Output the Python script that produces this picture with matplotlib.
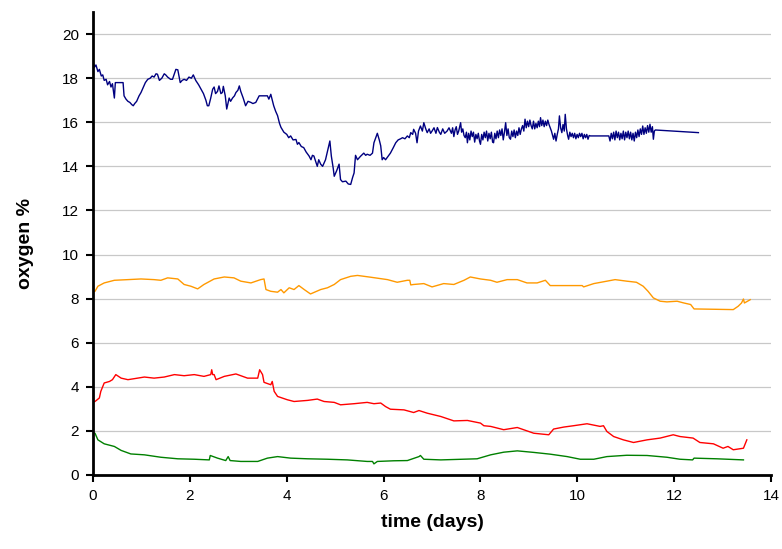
import matplotlib
matplotlib.use("Agg")
import matplotlib.pyplot as plt

# blue series (top)
blue_t = [0.0, 0.03, 0.06, 0.1, 0.13, 0.17, 0.2, 0.23, 0.27, 0.3, 0.34, 0.37, 0.4, 0.44, 0.46, 0.62, 0.64,
          0.68, 0.72, 0.76, 0.8, 0.83, 0.86, 0.9, 0.95, 0.99, 1.04, 1.08, 1.13, 1.18, 1.22, 1.26, 1.3, 1.33,
          1.37, 1.42, 1.47, 1.5, 1.54, 1.6, 1.64, 1.68, 1.71, 1.75, 1.8, 1.84, 1.88, 1.93, 1.98, 2.03, 2.07,
          2.12, 2.18, 2.23, 2.28, 2.33, 2.36, 2.39, 2.43, 2.47, 2.5, 2.53, 2.57, 2.6, 2.64, 2.67, 2.69, 2.73,
          2.76, 2.81, 2.84, 2.88, 2.92, 2.95, 2.99, 3.02, 3.05, 3.1, 3.15, 3.2, 3.26, 3.3, 3.36, 3.43, 3.5,
          3.6, 3.63, 3.67, 3.7, 3.73, 3.77, 3.81, 3.85, 3.88, 3.94, 4.0, 4.04, 4.08, 4.13, 4.19, 4.22, 4.25,
          4.3, 4.35, 4.4, 4.46, 4.5, 4.53, 4.56, 4.6, 4.63, 4.66, 4.7, 4.74, 4.8, 4.89, 4.92, 4.96, 4.98,
          5.03, 5.08, 5.11, 5.15, 5.22, 5.27, 5.32, 5.36, 5.39, 5.42, 5.46, 5.52, 5.59, 5.63, 5.66, 5.72,
          5.77, 5.8, 5.87, 5.91, 5.94, 5.97, 6.0, 6.04, 6.09, 6.14, 6.2, 6.25, 6.3, 6.35, 6.39, 6.44, 6.49,
          6.53, 6.56, 6.6, 6.62, 6.66, 6.69, 6.72, 6.76, 6.8, 6.83, 6.87, 6.9, 6.94, 6.97, 7.0, 7.04, 7.08,
          7.11, 7.15, 7.18, 7.22, 7.26, 7.31, 7.35,
          7.40, 7.425, 7.45, 7.475, 7.50, 7.525, 7.55, 7.575, 7.59, 7.61, 7.635, 7.66, 7.685, 7.71, 7.73,
          7.755, 7.78, 7.805, 7.83, 7.855, 7.88, 7.905, 7.93, 7.955, 7.98, 8.00, 8.025, 8.05, 8.075, 8.10,
          8.125, 8.15, 8.175, 8.20, 8.225, 8.25, 8.27, 8.295, 8.32, 8.345, 8.37, 8.395, 8.42, 8.445, 8.47,
          8.495, 8.52, 8.545, 8.57, 8.595, 8.62, 8.645, 8.67, 8.695, 8.72, 8.745, 8.77, 8.795, 8.82, 8.845,
          8.87, 8.895, 8.92, 8.945, 8.97, 8.995, 9.02, 9.045, 9.07, 9.095, 9.12, 9.145, 9.17, 9.195, 9.22,
          9.24, 9.265, 9.29, 9.315, 9.34, 9.365, 9.39, 9.415, 9.44, 9.465, 9.49, 9.51, 9.535, 9.56, 9.585,
          9.61, 9.63, 9.655, 9.68, 9.705, 9.73, 9.75, 9.775, 9.80, 9.82, 9.845, 9.87, 9.895, 9.92, 9.945,
          9.97, 9.995, 10.02, 10.045, 10.07, 10.095, 10.12, 10.145, 10.17, 10.195, 10.22, 10.245, 10.27,
          10.65, 10.675, 10.70, 10.725, 10.75, 10.775, 10.80, 10.825, 10.85, 10.875, 10.90, 10.925, 10.95,
          10.975, 11.00, 11.025, 11.05, 11.075, 11.10, 11.125, 11.15, 11.175, 11.20, 11.225, 11.25, 11.275,
          11.30, 11.325, 11.35, 11.375, 11.40, 11.425, 11.45, 11.475, 11.50, 11.525, 11.55, 11.57, 11.59,
          11.61, 12.5]
blue_v = [18.75, 18.5, 18.6, 18.3, 18.4, 18.1, 18.15, 17.9, 17.95, 17.7, 17.85, 17.6, 17.75, 17.1, 17.8, 17.8, 17.2,
          17.05, 16.95, 16.9, 16.8, 16.75, 16.85, 16.95, 17.2, 17.35, 17.6, 17.8, 17.95, 18.0, 18.1, 18.05, 18.2, 18.18,
          17.9, 18.0, 18.2, 18.15, 18.05, 17.95, 17.95, 18.2, 18.4, 18.38, 17.8, 17.9, 17.95, 17.9, 18.05, 18.0, 18.15,
          17.9, 17.7, 17.5, 17.3, 17.0, 16.75, 16.75, 17.1, 17.5, 17.6, 17.3, 17.4, 17.65, 17.3, 17.35, 17.63, 17.2,
          16.6, 17.1, 16.95, 17.1, 17.2, 17.35, 17.45, 17.65, 17.4, 17.1, 16.75, 16.95, 16.9, 16.85, 16.9, 17.2, 17.2,
          17.2, 17.05, 17.27, 17.0, 16.75, 16.5, 16.3, 15.95, 15.77, 15.55, 15.45, 15.3, 15.38, 15.2, 15.22, 15.0, 15.08,
          14.9, 14.85, 14.65, 14.47, 14.3, 14.5, 14.47, 14.2, 14.0, 14.3, 14.1, 14.0, 14.3, 15.15, 14.47, 13.9, 13.55,
          13.8, 14.1, 13.4, 13.3, 13.33, 13.2, 13.18, 13.5, 13.7, 14.5, 14.3, 14.45, 14.6, 14.5, 14.55, 14.5,
          14.6, 15.07, 15.5, 15.2, 14.93, 14.3, 14.4, 14.3, 14.45, 14.6, 14.85, 15.07, 15.2, 15.25, 15.3, 15.25, 15.38,
          15.3, 15.53, 15.45, 15.68, 15.5, 15.07, 15.6, 15.83, 15.6, 15.98, 15.7, 15.53, 15.7, 15.5, 15.6, 15.75, 15.5,
          15.76, 15.55, 15.45, 15.7, 15.5, 15.6, 15.75,
          15.50, 15.75, 15.35, 15.65, 15.80, 15.45, 15.60, 15.85, 15.98, 15.55, 15.70, 15.40, 15.30, 15.55, 15.07,
          15.50, 15.20, 15.60, 15.35, 15.55, 15.10, 15.45, 15.25, 15.50, 15.15, 15.00, 15.45, 15.20, 15.55, 15.30,
          15.60, 15.15, 15.50, 15.25, 15.55, 15.10, 15.07, 15.50, 15.25, 15.60, 15.30, 15.65, 15.40, 15.70, 15.20,
          15.55, 15.98, 15.40, 15.70, 15.30, 15.23, 15.60, 15.35, 15.65, 15.30, 15.60, 15.40, 15.75, 15.45, 15.70,
          15.85, 15.60, 16.14, 15.75, 16.05, 15.80, 16.10, 15.85, 15.70, 16.05, 15.70, 15.95, 15.75, 16.05, 15.80,
          16.21, 15.85, 16.10, 15.80, 16.05, 15.85, 16.10, 15.90, 15.75, 15.60, 15.40, 15.23, 15.50, 15.15, 15.45,
          15.70, 16.29, 15.75, 15.53, 15.90, 15.60, 16.36, 15.70, 15.40, 15.23, 15.55, 15.35, 15.50, 15.30, 15.50,
          15.25, 15.45, 15.30, 15.50, 15.35, 15.50, 15.25, 15.45, 15.30, 15.45, 15.23, 15.40, 15.38,
          15.38, 15.15, 15.50, 15.25, 15.55, 15.20, 15.60, 15.30, 15.55, 15.20, 15.50, 15.25, 15.60,
          15.20, 15.55, 15.30, 15.60, 15.25, 15.55, 15.20, 15.50, 15.15, 15.55, 15.30, 15.65, 15.35,
          15.70, 15.45, 15.83, 15.45, 15.75, 15.50, 15.85, 15.55, 15.91, 15.55, 15.80, 15.23, 15.60,
          15.65, 15.53]

# orange series
orange_t = [0.0, 0.04, 0.1, 0.23, 0.44, 0.72, 0.99, 1.26, 1.4, 1.54, 1.75, 1.88, 2.02, 2.16, 2.29, 2.5, 2.71,
            2.91, 3.05, 3.26, 3.46, 3.53, 3.57, 3.67, 3.81, 3.88, 3.94, 4.05, 4.15, 4.25, 4.36, 4.49, 4.7,
            4.84, 4.98, 5.11, 5.32, 5.46, 5.73, 6.08, 6.28, 6.49, 6.54, 6.56, 6.62, 6.83, 7.0, 7.24, 7.45,
            7.66, 7.79, 8.0, 8.21, 8.34, 8.55, 8.76, 8.96, 9.17, 9.34, 9.44, 9.79, 10.1, 10.13, 10.34, 10.61,
            10.78, 11.02, 11.22, 11.36, 11.46, 11.57, 11.71, 11.85, 12.06, 12.2, 12.34, 12.41, 13.22, 13.32,
            13.39, 13.43, 13.45, 13.57]
orange_v = [8.3, 8.33, 8.56, 8.71, 8.83, 8.86, 8.89, 8.86, 8.83, 8.94, 8.89, 8.64, 8.56, 8.44, 8.64, 8.89, 8.98,
            8.94, 8.79, 8.71, 8.86, 8.89, 8.41, 8.33, 8.29, 8.41, 8.26, 8.49, 8.41, 8.59, 8.41, 8.21, 8.41,
            8.49, 8.64, 8.86, 9.01, 9.05, 8.97, 8.86, 8.74, 8.83, 8.83, 8.62, 8.64, 8.68, 8.53, 8.68, 8.64,
            8.83, 8.98, 8.89, 8.83, 8.74, 8.86, 8.86, 8.71, 8.71, 8.83, 8.59, 8.59, 8.59, 8.53, 8.68, 8.79,
            8.86, 8.79, 8.74, 8.56, 8.33, 8.03, 7.88, 7.85, 7.88, 7.8, 7.73, 7.53, 7.5, 7.65,
            7.8, 7.98, 7.8, 7.95]

# red series
red_t = [0.0, 0.04, 0.13, 0.16, 0.23, 0.34, 0.4, 0.47, 0.58, 0.72, 0.92, 1.06, 1.26, 1.47, 1.68, 1.88, 2.09,
         2.29, 2.43, 2.45, 2.47, 2.5, 2.54, 2.71, 2.95, 3.19, 3.4, 3.44, 3.5, 3.53, 3.67, 3.7, 3.74, 3.81,
         4.01, 4.15, 4.43, 4.63, 4.77, 4.98, 5.11, 5.39, 5.66, 5.8, 5.94, 6.04, 6.14, 6.42, 6.62, 6.73,
         6.9, 7.18, 7.45, 7.73, 8.0, 8.07, 8.21, 8.48, 8.76, 9.1, 9.41, 9.51, 9.72, 9.92, 10.2, 10.47,
         10.54, 10.61, 10.75, 10.95, 11.16, 11.44, 11.71, 11.98, 12.12, 12.39, 12.53, 12.81, 13.01, 13.11,
         13.22, 13.43, 13.5]
red_v = [3.3, 3.33, 3.49, 3.79, 4.17, 4.24, 4.32, 4.55, 4.39, 4.32, 4.39, 4.44, 4.39, 4.44, 4.55, 4.5, 4.55,
         4.47, 4.55, 4.77, 4.55, 4.55, 4.32, 4.47, 4.58, 4.39, 4.39, 4.77, 4.55, 4.2, 4.09, 4.24, 3.79, 3.56,
         3.41, 3.33, 3.38, 3.44, 3.33, 3.29, 3.18, 3.23, 3.29, 3.23, 3.26, 3.1, 2.98, 2.95, 2.83, 2.92,
         2.8, 2.65, 2.45, 2.47, 2.35, 2.23, 2.2, 2.05, 2.15, 1.89, 1.82, 2.08, 2.17, 2.23, 2.32, 2.2,
         2.23, 1.97, 1.74, 1.59, 1.47, 1.59, 1.67, 1.82, 1.74, 1.67, 1.47, 1.41, 1.21, 1.29,
         1.14, 1.21, 1.59]

# green series
green_t = [0.0, 0.04, 0.1, 0.23, 0.44, 0.58, 0.78, 1.06, 1.4, 1.75, 2.09, 2.4, 2.42, 2.57, 2.74, 2.79, 2.83,
           3.05, 3.4, 3.6, 3.81, 4.08, 4.43, 4.84, 5.25, 5.66, 5.77, 5.8, 5.87, 6.21, 6.49, 6.73, 6.76,
           6.83, 7.18, 7.93, 8.21, 8.48, 8.76, 9.1, 9.44, 9.79, 10.06, 10.34, 10.61, 11.02, 11.44, 11.85,
           12.12, 12.38, 12.41, 12.88, 13.43]
green_v = [1.9, 1.89, 1.59, 1.41, 1.29, 1.11, 0.95, 0.91, 0.8, 0.73, 0.71, 0.68, 0.88, 0.76, 0.65, 0.83, 0.65,
           0.61, 0.61, 0.76, 0.83, 0.76, 0.73, 0.71, 0.68, 0.61, 0.61, 0.5, 0.61, 0.64, 0.65, 0.83, 0.88,
           0.71, 0.68, 0.73, 0.91, 1.03, 1.09, 1.02, 0.94, 0.83, 0.71, 0.71, 0.83, 0.89, 0.88, 0.8,
           0.71, 0.68, 0.76, 0.73, 0.68]

x_ticks = [0, 2, 4, 6, 8, 10, 12, 14]
y_ticks = [0, 2, 4, 6, 8, 10, 12, 14, 16, 18, 20]

plt.rcParams['font.family'] = ['Liberation Sans', 'DejaVu Sans']

fig = plt.figure(figsize=(7.82, 5.49), dpi=100)
ax = fig.add_axes([0.119, 0.135, 0.867, 0.843])

ax.plot(blue_t, blue_v, color='#000080', lw=1.0)
ax.plot(orange_t, orange_v, color='#ff9900', lw=1.0)
ax.plot(red_t, red_v, color='#ff0000', lw=1.0)
ax.plot(green_t, green_v, color='#008000', lw=1.0)

ax.set_xlim(0, 14)
ax.set_ylim(0, 21)
ax.set_xticks(x_ticks)
ax.set_yticks(y_ticks)
ax.yaxis.grid(True, color='#c8c8c8', lw=0.9)
ax.set_axisbelow(True)

for side in ['top', 'right']:
    ax.spines[side].set_visible(False)
for side in ['left', 'bottom']:
    ax.spines[side].set_linewidth(2)
    ax.spines[side].set_color('black')

ax.tick_params(axis='both', direction='out', length=5, width=1.5, labelsize=11, pad=5)

ax.set_xlabel('time (days)', fontsize=14, fontweight='bold', labelpad=8)
ax.set_ylabel('oxygen %', fontsize=14, fontweight='bold', labelpad=20)

fig.savefig('out.png', dpi=100)
